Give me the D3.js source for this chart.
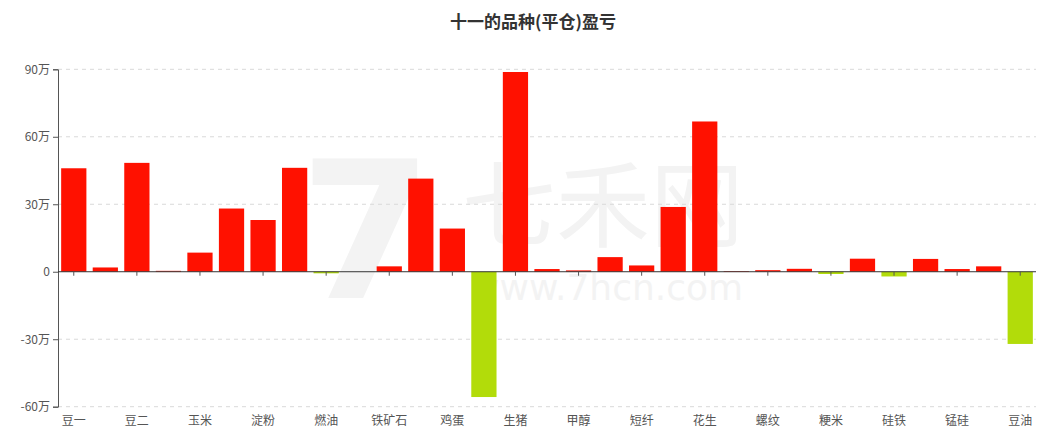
<!DOCTYPE html>
<html><head><meta charset="utf-8">
<script src="https://cdn.jsdelivr.net/npm/d3@7/dist/d3.min.js"></script>
<style>body{margin:0;background:#fff;}svg{display:block;font-family:"Noto Sans CJK SC","Noto Sans",sans-serif;}</style>
</head><body>
<svg id="c" width="1061" height="445"></svg>
<script>
const categories = ["豆一","豆粕","豆二","菜粕","玉米","棉花","淀粉","白糖","燃油","沥青","铁矿石","焦炭","鸡蛋","苹果","生猪","纯碱","甲醇","PTA","短纤","红枣","花生","热卷","螺纹","尿素","粳米","玻璃","硅铁","聚丙烯","锰硅","菜油","豆油"];
// profit/loss in 万
const values = [46.0,1.9,48.4,0.4,8.5,28.1,23.0,46.2,-0.7,0,2.4,41.4,19.2,-55.7,88.8,1.2,0.6,6.5,2.8,28.8,66.8,0.3,0.7,1.3,-1.0,5.8,-2.1,5.7,1.2,2.4,-32.1];
const yTicks = [-60,-30,0,30,60,90];
const title = "十一的品种(平仓)盈亏";

const svg = d3.select("#c");
const m = {l:58, r:1036, t:69.3, b:406.7};
const x = d3.scaleBand().domain(categories).range([m.l, m.r]).paddingInner(0.2).paddingOuter(0.1);
const xc = d3.scaleBand().domain(categories).range([m.l, m.r]);
const y = d3.scaleLinear().domain([-60,90]).range([m.b, m.t]);

// watermark
const wm = svg.append("g").attr("fill","#f3f3f3");
wm.append("text").attr("x",300).attr("y",298).attr("font-size",190).attr("font-weight","bold").attr("font-family","DejaVu Sans").text("7");
wm.append("text").attr("x",462).attr("y",240).attr("font-size",94).text("七禾网");
wm.append("text").attr("x",470).attr("y",300).attr("font-size",36).attr("font-family","DejaVu Sans").text("www.7hcn.com");

// title
svg.append("text").attr("x",533).attr("y",28).attr("text-anchor","middle")
  .attr("font-size",17).attr("font-weight","bold").attr("fill","#333").text(title);

// grid
svg.append("g").selectAll("line").data(yTicks.filter(d=>d!==0)).join("line")
  .attr("x1",m.l).attr("x2",m.r).attr("y1",d=>y(d)).attr("y2",d=>y(d))
  .attr("stroke","#d9d9d9").attr("stroke-dasharray","4,4");

// bars
svg.append("g").selectAll("rect").data(values).join("rect")
  .attr("x",(d,i)=>x(categories[i])).attr("width",x.bandwidth())
  .attr("y",d=>y(Math.max(0,d))).attr("height",d=>Math.abs(y(d)-y(0)))
  .attr("fill",d=>d>=0?"#ff1100":"#b2dc0a");

// y axis
const ya = d3.axisLeft(y).tickValues(yTicks).tickSize(5).tickPadding(3).tickFormat(d=>d===0?"0":d+"万");
const yg = svg.append("g").attr("transform",`translate(${m.l},0)`).call(ya);
yg.select(".domain").attr("stroke","#555");
yg.selectAll(".tick line").attr("stroke","#555");
yg.selectAll("text").attr("fill","#555").attr("font-size",12).attr("font-family","\"Noto Sans CJK SC\",sans-serif");

// x axis at zero
const shown = categories.filter((c,i)=>i%2===0);
const zg = svg.append("g").attr("transform",`translate(0,${y(0)})`);
zg.append("line").attr("x1",m.l).attr("x2",m.r).attr("stroke","#333");
zg.selectAll("line.t").data(shown).join("line").attr("class","t")
  .attr("x1",d=>xc(d)+xc.bandwidth()/2).attr("x2",d=>xc(d)+xc.bandwidth()/2)
  .attr("y1",0).attr("y2",4).attr("stroke","#555");

// x labels at bottom
svg.append("g").selectAll("text").data(shown).join("text")
  .attr("x",d=>xc(d)+xc.bandwidth()/2).attr("y",425).attr("text-anchor","middle")
  .attr("font-size",12).attr("fill","#555").text(d=>d);
</script>
</body></html>
